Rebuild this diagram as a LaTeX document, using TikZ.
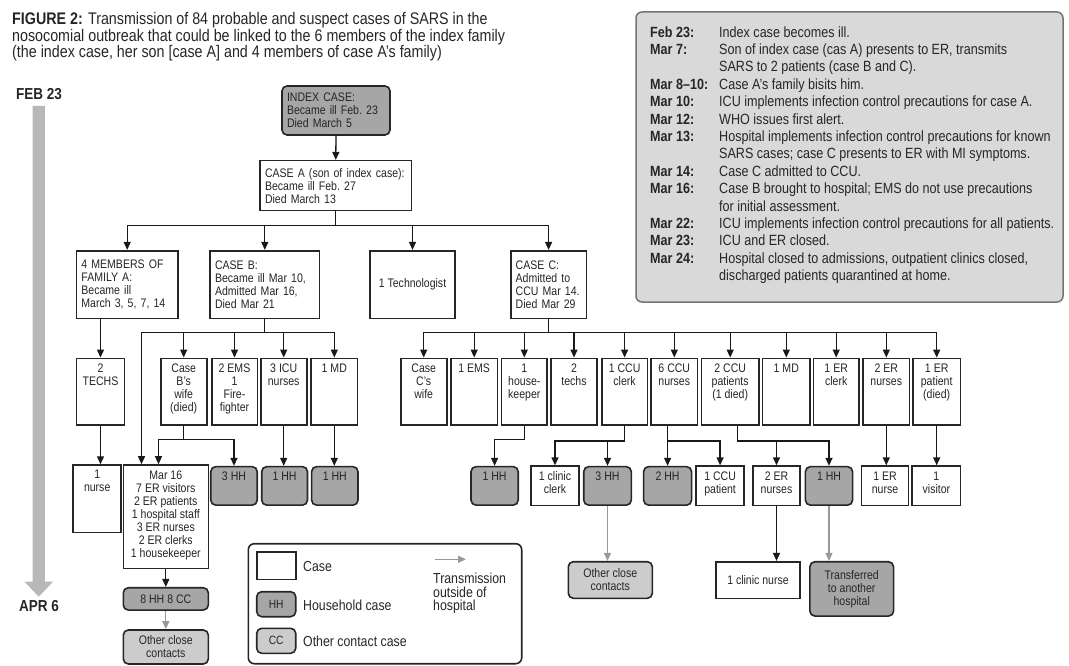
\documentclass[tikz,border=0pt]{standalone}
\usepackage{fontspec}
\setmainfont{Liberation Sans}[FakeStretch=0.85]
\usetikzlibrary{arrows.meta}
\newcommand\bxfont{\fontsize{12.4}{13}\selectfont}
\newcommand\lgfont{\fontsize{14.5}{13.6}\selectfont}

\begin{document}
\begin{tikzpicture}[x=1pt,y=-1pt,
cs/.style = {% case box
    draw=black!85, line width=1.6pt, fill=white, inner sep=0pt,
    text=black!85, font=\bxfont,
            },
hh/.style = {cs, fill=black!35, rounded corners=5pt},% household case
cc/.style = {cs, fill=black!20, rounded corners=5pt},% other contact
sz/.style 2 args = {minimum width=#1, minimum height=#2},
lt/.style = {align=left, text width=#1, inner xsep=5pt},
txt/.style = {% text at top of box
    label={[anchor=north, yshift=-6pt, align=center, inner sep=0pt,
            text=black!85, font=\bxfont]north:{#1}},
             },
ln/.style = {line width=1.3pt, draw=black!90, -{Triangle[width=7pt,length=8pt]}},
gl/.style = {ln, draw=black!40},% outside hospital
                        ]
\useasboundingbox (0,0) rectangle (1069,666);
% title
\node[anchor=north west, align=left, inner sep=0pt, text=black!85,
      font=\fontsize{16.8}{15.5}\selectfont] (title) at (12,12)
     {\textbf{FIGURE 2:} Transmission of 84 probable and suspect cases of SARS in the\\
      nosocomial outbreak that could be linked to the 6 members of the index family\\
      (the index case, her son [case A] and 4 members of case A's family)};
% time arrow
\fill[black!28] (32.7,106) -- (44.8,106) -- (44.8,581.7) -- (53,581.7)
    -- (38.75,596.7) -- (24.5,581.7) -- (32.7,581.7) -- cycle;
\node[font=\bfseries\fontsize{15.9}{15}\selectfont, text=black!85] (feb) at (39,94) {FEB 23};
\node[font=\bfseries\fontsize{15.9}{15}\selectfont, text=black!85] (apr) at (39,606) {APR 6};
% chronology
\node[draw=black!55, line width=1.5pt, fill=black!15, rounded corners=6pt,
      sz={427}{290}] (chrono) at (849.5,157) {};
\node[anchor=north west, inner sep=0pt, text=black!85,
      font=\fontsize{14.8}{17.4}\selectfont] (events) at (650,24.8)
  {\begin{tabular}{@{}p{69pt}@{}l@{}}
   \textbf{Feb 23:} & Index case becomes ill.\\
   \textbf{Mar 7:} & Son of index case (cas A) presents to ER, transmits\\
    & SARS to 2 patients (case B and C).\\
   \textbf{Mar 8--10:} & Case A's family bisits him.\\
   \textbf{Mar 10:} & ICU implements infection control precautions for case A.\\
   \textbf{Mar 12:} & WHO issues first alert.\\
   \textbf{Mar 13:} & Hospital implements infection control precautions for known\\
    & SARS cases; case C presents to ER with MI symptoms.\\
   \textbf{Mar 14:} & Case C admitted to CCU.\\
   \textbf{Mar 16:} & Case B brought to hospital; EMS do not use precautions\\
    & for initial assessment.\\
   \textbf{Mar 22:} & ICU implements infection control precautions for all patients.\\
   \textbf{Mar 23:} & ICU and ER closed.\\
   \textbf{Mar 24:} & Hospital closed to admissions, outpatient clinics closed,\\
    & discharged patients quarantined at home.
   \end{tabular}};
% index case, case A
\node[hh, sz={108}{49}, lt=98pt] (index) at (336,110.5)
     {INDEX CASE:\\Became ill Feb.\ 23\\Died March 5};
\node[cs, sz={151.5}{50}, lt=141.5pt] (caseA) at (335.75,185.7)
     {CASE A (son of index case):\\Became ill Feb.\ 27\\Died March 13};
\draw[ln] (index.south) -- (caseA.north);
% first generation
\node[cs, sz={101.6}{67.6}, lt=91.6pt] (famA) at (127.2,284.5)
     {4 MEMBERS OF\\FAMILY A:\\Became ill\\March 3, 5, 7, 14};
\node[cs, sz={109.6}{67.6}, lt=99.6pt] (caseB) at (264.8,284.5)
     {CASE B:\\Became ill Mar 10,\\Admitted Mar 16,\\Died Mar 21};
\node[cs, sz={85}{67.6}] (tech) at (412.5,284.5) {1 Technologist};
\node[cs, sz={75.8}{67.6}, lt=65.8pt] (caseC) at (548.6,284.5)
     {CASE C:\\Admitted to\\CCU Mar 14.\\Died Mar 29};
\foreach \n in {famA,caseB,tech,caseC}
    \draw[ln] (caseA.south) -- ++(0,14.3) -| (\n.north);
% second generation
\foreach \n/\x/\w/\t in
       {techsA/100.5/48.3/{2\\TECHS},
        wifeB/183.7/46/{Case\\B's\\wife\\(died)},
        emsB/234.5/45.6/{2 EMS\\1\\Fire-\\fighter},
        icuB/283.7/46/{3 ICU\\nurses},
        mdB/334.3/46.7/{1 MD},
        wifeC/423.7/46/{Case\\C's\\wife},
        emsC/474.2/46.3/{1 EMS},
        hkC/524.3/45.3/{1\\house-\\keeper},
        techsC/574/46/{2\\techs},
        clerkC/624.6/45.8/{1 CCU\\clerk},
        nursesC/674.3/46.5/{6 CCU\\nurses},
        patientsC/730.2/57.7/{2 CCU\\patients\\(1 died)},
        mdC/786.3/47.4/{1 MD},
        erclerkC/836.2/45.6/{1 ER\\clerk},
        ernursesC/886.3/46.7/{2 ER\\nurses},
        erpatientC/936.7/47.6/{1 ER\\patient\\(died)}}
    {\node[cs, sz={\w}{66.7}, txt=\t] (\n) at (\x,391.7) {};}
\draw[ln] (techsA.north |- famA.south) -- (techsA.north);
\foreach \n in {wifeB,emsB,icuB,mdB}
    \draw[ln] (caseB.south) -- ++(0,13.4) -| (\n.north);
\foreach \n in {wifeC,emsC,hkC,techsC,clerkC,nursesC,patientsC,mdC,erclerkC,ernursesC,erpatientC}
    \draw[ln] (caseC.south) -- ++(0,13.4) -| (\n.north);
% third generation
\node[cs, sz={48}{67.3}, txt={1\\nurse}] (nurseA) at (97.2,498.7) {};
\node[cs, sz={85}{103.3}, txt={Mar 16\\7 ER visitors\\2 ER patients\\1 hospital staff\\3 ER nurses\\2 ER clerks\\1 housekeeper}] (mar16) at (165.8,516.65) {};
\foreach \n/\x/\w/\t in
       {hh3B/234/46.5/{3 HH}, hh1icu/284.6/45.8/{1 HH}, hh1md/334.8/46.4/{1 HH},
        hh1hk/494.6/47.2/{1 HH}, hh3clerk/607.5/47.6/{3 HH}, hh2/667.6/48/{2 HH},
        hh1p/829/47.2/{1 HH}}
    {\node[hh, sz={\w}{38.5}, txt=\t] (\n) at (\x,485.9) {};}
\foreach \n/\x/\w/\t in
       {clinicclerk/555/47.6/{1 clinic\\clerk}, ccupatient/720.1/48/{1 CCU\\patient},
        ernurses2/776.5/47.3/{2 ER\\nurses}, ernurse1/885/47.3/{1 ER\\nurse},
        visitor/936.4/48.3/{1\\visitor}}
    {\node[cs, sz={\w}{39.5}, txt=\t] (\n) at (\x,485.9) {};}
\draw[ln] (techsA.south) -- (techsA.south |- nurseA.north);
\draw[ln] (caseB.south) -- ++(0,13.4) -| ([xshift=19pt]mar16.north west);
\draw[ln] (wifeB.south) -- ++(0,13.3) -| ([xshift=36pt]mar16.north west);
\draw[ln] (wifeB.south) -- ++(0,13.3) -| (hh3B.north);
\draw[ln] (icuB.south) -- (icuB.south |- hh1icu.north);
\draw[ln] (mdB.south) -- (mdB.south |- hh1md.north);
\draw[ln] (hkC.south) -- ++(0,13.3) -| (hh1hk.north);
\draw[ln] (clerkC.south) -- ++(0,15) -| (clinicclerk.north);
\draw[ln] (clerkC.south) -- ++(0,15) -| (hh3clerk.north);
\draw[ln] (hh2.north |- nursesC.south) -- (hh2.north);
\draw[ln] (hh2.north |- nursesC.south) -- ++(0,15) -| (ccupatient.north);
\draw[ln] ([xshift=7pt]patientsC.south) -- ++(0,15) -| (ernurses2.north);
\draw[ln] ([xshift=7pt]patientsC.south) -- ++(0,15) -| (hh1p.north);
\draw[ln] (ernursesC.south) -- (ernursesC.south |- ernurse1.north);
\draw[ln] (erpatientC.south) -- (erpatientC.south |- visitor.north);
% fourth generation
\node[hh, sz={85}{22.3}] (hh8) at (165.8,598.9) {8 HH 8 CC};
\node[cc, sz={85}{34}, align=center] (otherA) at (165.8,647) {Other close\\contacts};
\node[cc, sz={84}{36.6}, align=center] (otherC) at (610.3,580) {Other close\\contacts};
\node[cs, sz={84}{36.6}] (clinicnurse) at (758,580) {1 clinic nurse};
\node[hh, sz={83.7}{54.3}, align=center] (transferred) at (851.7,588.9) {Transferred\\to another\\hospital};
\draw[ln] (mar16.south) -- (hh8.north);
\draw[gl] (hh8.south) -- (otherA.north);
\draw[gl] (hh3clerk.south) -- (hh3clerk.south |- otherC.north);
\draw[ln] (ernurses2.south) -- (ernurses2.south |- clinicnurse.north);
\draw[gl] (hh1p.south) -- (hh1p.south |- transferred.north);
% legend
\node[draw=black!85, line width=1.6pt, rounded corners=6pt, sz={273.4}{120}] (lgd) at (385,603.7) {};
\node[cs, sz={39}{27.6}] (lgcase) at (276.2,565.5) {};
\node[hh, sz={39}{25}, font=\fontsize{12}{12}\selectfont] (lghh) at (276.2,604.2) {HH};
\node[cc, sz={39}{25}, font=\fontsize{12}{12}\selectfont] (lgcc) at (276.2,640.8) {CC};
\node[anchor=west, inner sep=0pt, font=\lgfont, text=black!85] (lgcasetx) at (303,566.7) {Case};
\node[anchor=west, inner sep=0pt, font=\lgfont, text=black!85] (lghhtx) at (303,605) {Household case};
\node[anchor=west, inner sep=0pt, font=\lgfont, text=black!85] (lgcctx) at (303,641.7) {Other contact case};
\coordinate (la) at (435,559.3);
\coordinate (lb) at (466,559.3);
\draw[gl] (la) -- (lb);
\node[anchor=north west, align=left, inner sep=0pt, font=\lgfont, text=black!85] (lgtr) at (433,573)
     {Transmission\\outside of\\hospital};
\end{tikzpicture}
\end{document}
